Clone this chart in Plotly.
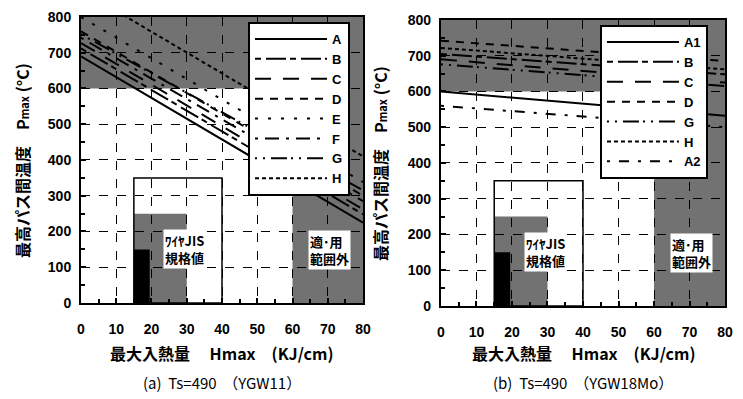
import plotly.graph_objects as go

# ---------------- data ----------------
X_RANGE = [0, 80]
Y_RANGE = [0, 800]
X_TICKS = [0, 10, 20, 30, 40, 50, 60, 70, 80]
Y_TICKS = [0, 100, 200, 300, 400, 500, 600, 700, 800]
LINE_X = [0, 80]

# panel (a) YGW11 : Pmax at Hmax=0 and Hmax=80
A_NAMES = ["A", "B", "C", "D", "E", "F", "G", "H"]
A_START = [690, 712, 727, 760, 800, 742, 752, 875]
A_END = [225, 248, 262, 300, 338, 285, 315, 410]

# panel (b) YGW18Mo
B_NAMES = ["A1", "B", "C", "D", "G", "H", "A2"]
B_START = [600, 705, 690, 742, 676, 722, 560]
B_END = [532, 648, 625, 685, 615, 662, 500]

# regions
TOP_BAND_Y = [600, 800]        # Pmax above 600 -> shaded
OUT_RANGE_X = [60, 80]         # Hmax above 60 -> out of application range
JIS_FRAME_X = [15, 40]
JIS_FRAME_Y = 350
WIRE_GRAY_X = [15, 30]
WIRE_GRAY_Y = 250
WIRE_BLACK_X = [15, 19.5]
WIRE_BLACK_Y = 150

DASHES = {
    "A": "solid", "A1": "solid",
    "B": "6px,5px,20px,4px",
    "C": "16px,12px",
    "D": "8px,7px",
    "E": "3px,10px",
    "F": "3px,7px,14px,7px",
    "G": "2px,6px,2px,6px,16px,4px",
    "H": "4px,3px",
    "A2": "3px,9px,10px,9px",
}

GRAY = "#727272"
FONT = "Liberation Sans, Arial, Noto Sans CJK JP"
CJK = "Noto Sans CJK JP"

fig = go.Figure()

for n, s, e in zip(A_NAMES, A_START, A_END):
    fig.add_trace(go.Scatter(x=LINE_X, y=[s, e], mode="lines", name=n,
                             line=dict(color="black", width=2, dash=DASHES[n]),
                             xaxis="x", yaxis="y", legend="legend"))
for n, s, e in zip(B_NAMES, B_START, B_END):
    fig.add_trace(go.Scatter(x=LINE_X, y=[s, e], mode="lines", name=n,
                             line=dict(color="black", width=2, dash=DASHES[n]),
                             xaxis="x2", yaxis="y2", legend="legend2"))

shapes = []
annotations = []
for xr, yr in (("x", "y"), ("x2", "y2")):
    shapes += [
        dict(type="rect", xref=xr, yref=yr, x0=X_RANGE[0], x1=X_RANGE[1],
             y0=TOP_BAND_Y[0], y1=TOP_BAND_Y[1], fillcolor=GRAY, line_width=0, layer="below"),
        dict(type="rect", xref=xr, yref=yr, x0=OUT_RANGE_X[0], x1=OUT_RANGE_X[1],
             y0=Y_RANGE[0], y1=Y_RANGE[1], fillcolor=GRAY, line_width=0, layer="below"),
        dict(type="rect", xref=xr, yref=yr, x0=WIRE_GRAY_X[0], x1=WIRE_GRAY_X[1],
             y0=0, y1=WIRE_GRAY_Y, fillcolor=GRAY, line_width=0, layer="below"),
        dict(type="rect", xref=xr, yref=yr, x0=WIRE_BLACK_X[0], x1=WIRE_BLACK_X[1],
             y0=0, y1=WIRE_BLACK_Y, fillcolor="black", line_width=0, layer="above"),
        dict(type="rect", xref=xr, yref=yr, x0=JIS_FRAME_X[0], x1=JIS_FRAME_X[1],
             y0=0, y1=JIS_FRAME_Y, fillcolor="rgba(0,0,0,0)",
             line=dict(color="black", width=1.5), layer="above"),
    ]
    annotations += [
        dict(xref=xr, yref=yr, x=29.5, y=150, text="<b>ﾜｲﾔJIS<br>規格値</b>", showarrow=False,
             bgcolor="white", align="left", font=dict(family=CJK, size=13, color="black"),
             borderpad=1),
        dict(xref=xr, yref=yr, x=70.5, y=148, text="<b>適･用<br>範囲外</b>", showarrow=False,
             bgcolor="white", align="left", font=dict(family=CJK, size=13, color="black"),
             borderpad=1),
    ]

ytitle = ("<b>最高パス間温度</b>　<b>P<span style='font-size:11px'>max</span> (°C)</b>")
xtitle = "<b>最大入熱量</b>　 <b>Hmax　(KJ/cm)</b>"
for xc, yc in ((0.0296, 0.599), (0.5114, 0.5915)):
    annotations.append(dict(xref="paper", yref="paper", x=xc, y=yc, text=ytitle,
                            textangle=-90, showarrow=False, xanchor="center", yanchor="middle",
                            font=dict(family=CJK, size=16, color="#000000")))
for xc, cap in ((0.2987, "(a)&nbsp;&nbsp;Ts=490&nbsp;&nbsp;（YGW11）"),
                (0.7847, "(b)&nbsp;&nbsp;Ts=490&nbsp;&nbsp;（YGW18Mo）")):
    annotations.append(dict(xref="paper", yref="paper", x=xc, y=0.1153, text=xtitle,
                            showarrow=False, xanchor="center", yanchor="middle",
                            font=dict(family=CJK, size=16, color="black")))
    annotations.append(dict(xref="paper", yref="paper", x=xc, y=0.0426, text=cap,
                            showarrow=False, xanchor="center", yanchor="middle",
                            font=dict(family=CJK, size=15, color="black")))

axis_common = dict(
    showline=True, mirror=True, linecolor="black", linewidth=2,
    ticks="inside", ticklen=5, tickwidth=1.5, tickcolor="black",
    showgrid=True, gridcolor="black", griddash="dash", gridwidth=1,
    zeroline=False, automargin=False,
    tickfont=dict(family=FONT, size=14, color="black", weight="bold"),
)

fig.update_layout(
    width=743, height=399, margin=dict(l=0, r=0, t=0, b=0, autoexpand=False),
    paper_bgcolor="white", plot_bgcolor="white",
    xaxis=dict(domain=[0.109, 0.4886], range=X_RANGE, tickvals=X_TICKS,
               anchor="y", ticklabelstandoff=12,
               minor=dict(dtick=5, ticks="inside", ticklen=4, tickcolor="black", showgrid=False),
               **axis_common),
    yaxis=dict(domain=[0.2406, 0.9574], range=Y_RANGE, tickvals=Y_TICKS,
               anchor="x", ticklabelstandoff=5,
               minor=dict(dtick=50, ticks="inside", ticklen=4, tickcolor="black", showgrid=False),
               **axis_common),
    xaxis2=dict(domain=[0.5935, 0.9758], range=X_RANGE, tickvals=X_TICKS,
                anchor="y2", ticklabelstandoff=12,
                minor=dict(dtick=5, ticks="inside", ticklen=4, tickcolor="black", showgrid=False),
                **axis_common),
    yaxis2=dict(domain=[0.2331, 0.9499], range=Y_RANGE, tickvals=Y_TICKS,
                anchor="x2", ticklabelstandoff=5,
                minor=dict(dtick=50, ticks="inside", ticklen=4, tickcolor="black", showgrid=False),
                **axis_common),
    legend=dict(x=0.3338, y=0.9449, xanchor="left", yanchor="top",
                bgcolor="white", bordercolor="black", borderwidth=2,
                font=dict(family=FONT, size=13, color="black", weight="bold"),
                itemwidth=72, tracegroupgap=0),
    legend2=dict(x=0.8075, y=0.9373, xanchor="left", yanchor="top",
                 bgcolor="white", bordercolor="black", borderwidth=2,
                 font=dict(family=FONT, size=13, color="black", weight="bold"),
                 itemwidth=72, tracegroupgap=0),
    shapes=shapes, annotations=annotations, showlegend=True,
)

fig.write_html("out.html", config={"displayModeBar": False},
               post_script="document.body.style.margin='0px';")
